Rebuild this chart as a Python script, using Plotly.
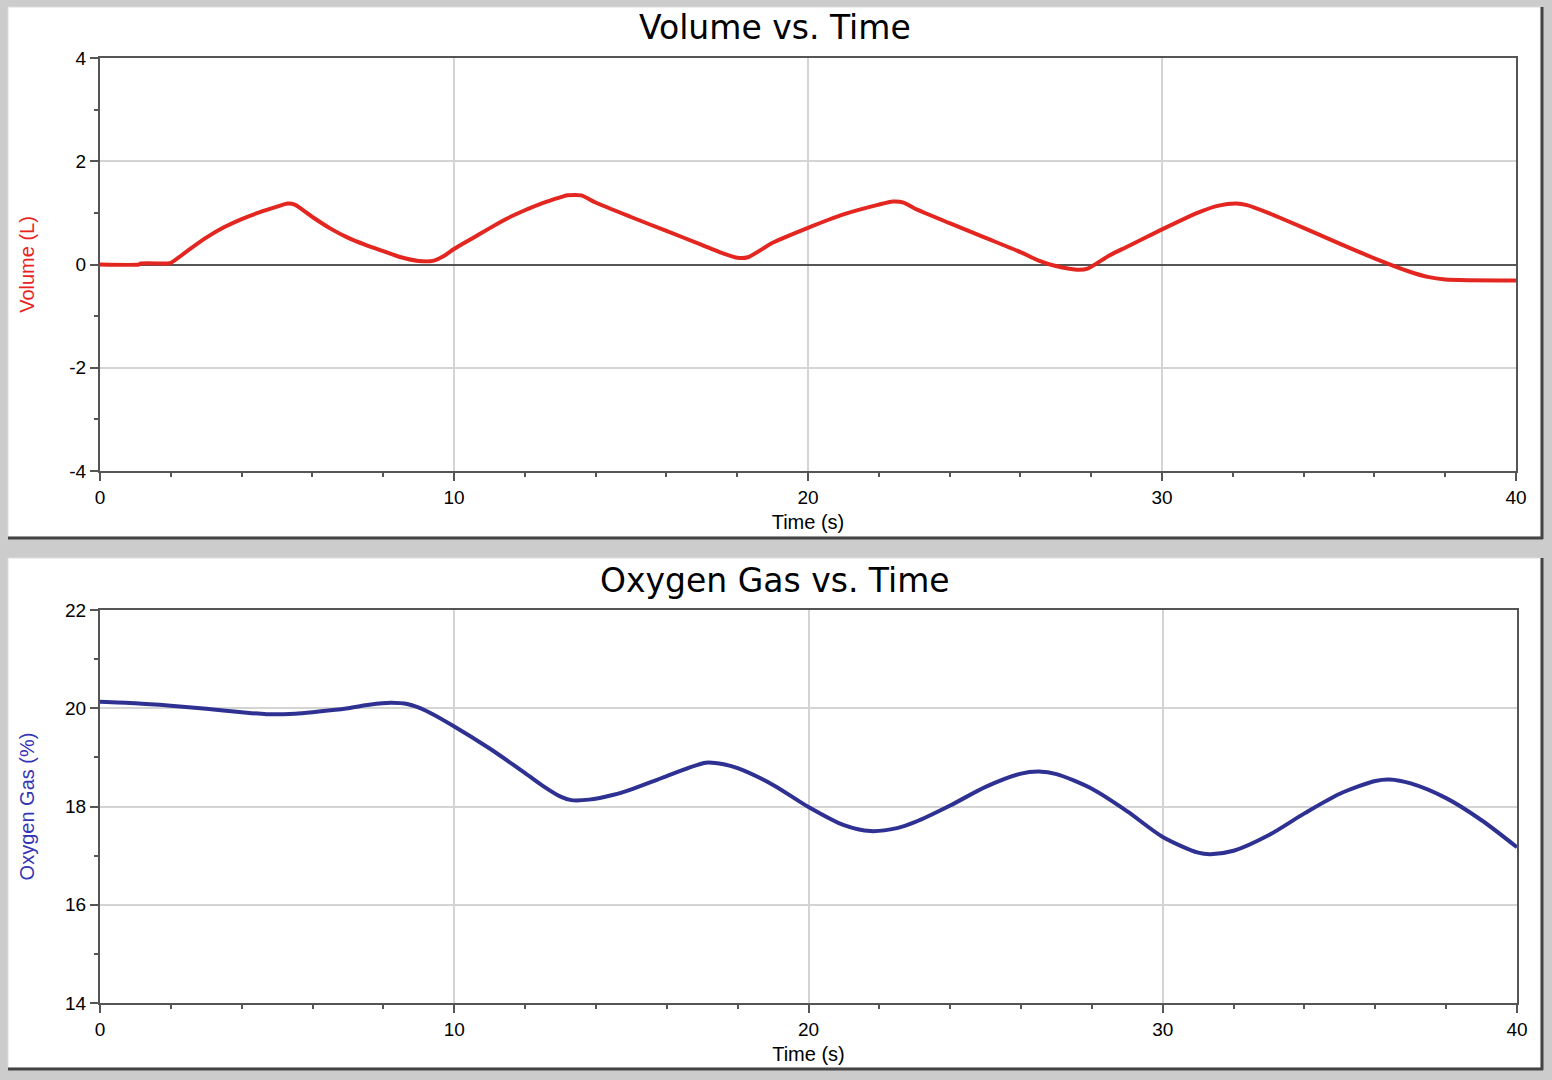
import plotly.graph_objects as go

# ---------------- data ----------------
vol_time = [0, 1.1, 1.15, 1.9, 2.0, 2.5, 3.0, 3.5, 4.0, 4.5, 5.0, 5.3, 5.5, 6.0, 6.5, 7.0, 7.5,
            8.0, 8.5, 9.0, 9.4, 9.7, 10.0, 10.5, 11.0, 11.5, 12.0, 12.5, 13.0, 13.2, 13.6, 14.0,
            15.0, 16.0, 17.0, 17.5, 18.0, 18.3, 19.0, 20.0, 21.0, 22.0, 22.4, 22.7, 23.0, 24.0,
            25.0, 26.0, 26.5, 27.0, 27.6, 27.9, 28.5, 29.0, 30.0, 31.0, 31.6, 32.1, 32.4, 33.0,
            34.0, 35.0, 36.0, 37.0, 37.5, 38.0, 40.0]
volume = [0, 0, 0.02, 0.02, 0.03, 0.28, 0.52, 0.72, 0.88, 1.01, 1.12, 1.18, 1.16, 0.92, 0.70, 0.52, 0.38,
          0.26, 0.14, 0.07, 0.07, 0.16, 0.30, 0.50, 0.70, 0.89, 1.05, 1.19, 1.30, 1.34, 1.34, 1.20,
          0.92, 0.65, 0.38, 0.24, 0.13, 0.14, 0.42, 0.71, 0.97, 1.16, 1.22, 1.20, 1.09, 0.80,
          0.52, 0.24, 0.08, -0.03, -0.10, -0.08, 0.17, 0.34, 0.68, 1.00, 1.14, 1.18, 1.15, 1.00,
          0.71, 0.41, 0.12, -0.14, -0.24, -0.29, -0.31]

ox_time = [0, 1, 2, 3, 4, 4.7, 5.5, 6, 7, 7.6, 8.2, 8.7, 9.2, 10, 11, 12, 12.5, 13, 13.3, 13.8,
           14.5, 15, 16, 17.1, 17.6, 18, 19, 20, 21, 21.75, 22.5, 23, 24, 25, 26, 26.5, 27, 28,
           29, 30, 31, 31.35, 32, 33, 34, 35, 36, 36.4, 37, 38, 39, 40]
oxygen = [20.13, 20.10, 20.05, 19.99, 19.92, 19.88, 19.89, 19.92, 20.00, 20.07, 20.11, 20.08, 19.95,
          19.63, 19.18, 18.68, 18.42, 18.20, 18.13, 18.14, 18.24, 18.35, 18.62, 18.89, 18.86, 18.78,
          18.44, 17.99, 17.62, 17.50, 17.56, 17.68, 18.02, 18.40, 18.67, 18.71, 18.66, 18.36, 17.90,
          17.38, 17.06, 17.03, 17.10, 17.42, 17.86, 18.26, 18.52, 18.55, 18.47, 18.17, 17.72, 17.17]

x_ticks = [0, 10, 20, 30, 40]
vol_ticks = [-4, -2, 0, 2, 4]
vol_ticktext = ["-4", "-2", "0", "2", "4"]
ox_ticks = [14, 16, 18, 20, 22]

W, H = 1552, 1080
def px(x):
    return x / W
def py(y):
    return 1 - y / H

RED = "#e3261f"
BLUE = "#2e3192"
AX = "#555555"
GRID = "#d4d4d4"
FONT = "Liberation Sans, Arial"
TICKFONT = dict(family=FONT, size=19, color="black")

fig = go.Figure()
fig.add_trace(go.Scatter(x=vol_time, y=volume, mode="lines", xaxis="x", yaxis="y",
                         line=dict(color=RED, width=4, shape="spline", smoothing=0.6),
                         showlegend=False))
fig.add_trace(go.Scatter(x=ox_time, y=oxygen, mode="lines", xaxis="x2", yaxis="y2",
                         line=dict(color=BLUE, width=4, shape="spline", smoothing=0.8),
                         showlegend=False))

def xaxis(domain, anchor):
    return dict(domain=domain, anchor=anchor, range=[0, 40], tickvals=x_ticks,
                ticks="outside", ticklen=8, tickwidth=2, tickcolor=AX,
                showline=True, linecolor=AX, linewidth=2, mirror=True,
                showgrid=True, gridcolor=GRID, gridwidth=2, zeroline=False,
                tickfont=TICKFONT, automargin=False,
                minor=dict(dtick=2, ticks="outside", ticklen=4, tickwidth=2, tickcolor=AX, showgrid=False),
                title=dict(text="Time (s)", font=dict(family=FONT, size=20, color="black"),
                           standoff=8))

def yaxis(domain, anchor, rng, tv, tt, title, color, zero, standoff):
    return dict(domain=domain, anchor=anchor, range=rng, tickvals=tv, ticktext=tt,
                ticks="outside", ticklen=8, tickwidth=2, tickcolor=AX,
                showline=True, linecolor=AX, linewidth=2, mirror=True,
                showgrid=True, gridcolor=GRID, gridwidth=2,
                zeroline=zero, zerolinecolor=AX, zerolinewidth=2,
                tickfont=TICKFONT, automargin=False,
                minor=dict(dtick=1, ticks="outside", ticklen=4, tickwidth=2, tickcolor=AX, showgrid=False),
                title=dict(text=title, font=dict(family=FONT, size=20, color=color),
                           standoff=standoff))

shapes = []
for (top, bot) in [(7, 537), (558, 1068)]:
    shapes.append(dict(type="rect", xref="paper", yref="paper", x0=px(8), x1=px(1541),
                       y0=py(bot), y1=py(top), fillcolor="white", line=dict(color="#dddddd", width=1),
                       layer="below"))
    shapes.append(dict(type="line", xref="paper", yref="paper", x0=px(8), x1=px(1543),
                       y0=py(bot + 1), y1=py(bot + 1), line=dict(color="#444444", width=3), layer="below"))
    shapes.append(dict(type="line", xref="paper", yref="paper", x0=px(1542), x1=px(1542),
                       y0=py(bot + 2), y1=py(top), line=dict(color="#444444", width=3), layer="below"))

fig.update_layout(
    width=W, height=H,
    margin=dict(l=0, r=0, t=0, b=0, pad=0, autoexpand=False),
    paper_bgcolor="#cccccc",
    plot_bgcolor="white",
    xaxis=xaxis([px(100), px(1516)], "y"),
    yaxis=yaxis([py(471), py(58)], "x", [-4, 4], vol_ticks, vol_ticktext, "Volume (L)", "#e8231e", True, 29),
    xaxis2=xaxis([px(100), px(1517)], "y2"),
    yaxis2=yaxis([py(1003), py(610)], "x2", [14, 22], ox_ticks, [str(v) for v in ox_ticks],
                 "Oxygen Gas (%)", "#3535b8", False, 25),
    shapes=shapes,
    annotations=[
        dict(text="Volume vs. Time", xref="paper", yref="paper", x=px(775), y=py(27),
             showarrow=False, xanchor="center", yanchor="middle",
             font=dict(family="DejaVu Sans", size=33, color="black")),
        dict(text="Oxygen Gas vs. Time", xref="paper", yref="paper", x=px(775), y=py(580),
             showarrow=False, xanchor="center", yanchor="middle",
             font=dict(family="DejaVu Sans", size=33, color="black")),
    ],
)

fig.write_html("out.html", config={"displayModeBar": False},
               post_script="document.body.style.margin='0';document.body.style.background='#cccccc';")
